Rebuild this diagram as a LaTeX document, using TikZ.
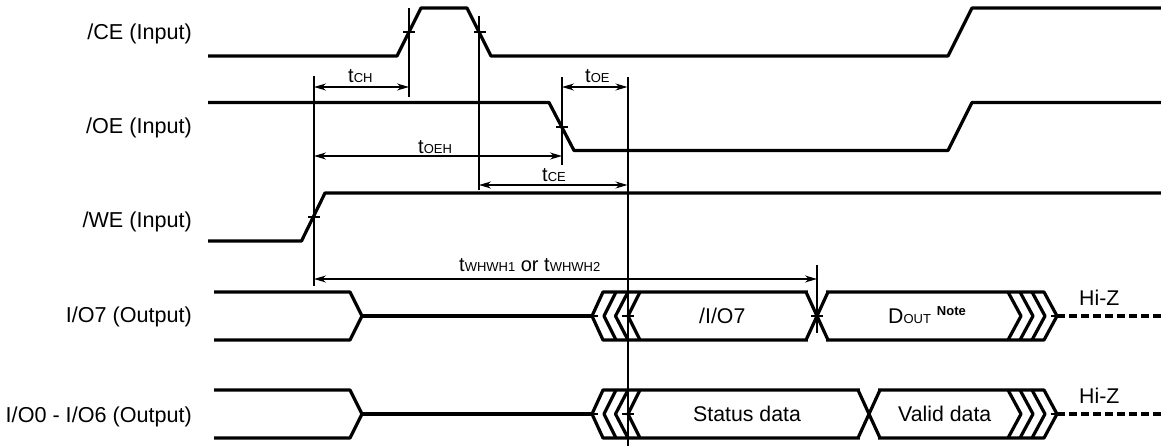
\documentclass[tikz,border=0pt]{standalone}
\usepackage{fontspec}
\setmainfont{Liberation Sans}
\usetikzlibrary{arrows.meta}
\newcommand{\sg}[1]{{\fontsize{13}{13}\selectfont #1}}
\tikzset{
  x=1pt,y=-1pt,
  wave/.style={line width=3.2pt,line join=round,black},
  guide/.style={line width=2pt,black},
  tickmark/.style={line width=1.2pt,black},
  dim/.style={line width=1.3pt,black,{Stealth[length=12pt,width=7pt]}-{Stealth[length=12pt,width=7pt]}},
  hiz/.style={wave,dash pattern=on 8pt off 4pt},
  sig/.style={anchor=base east,font=\fontsize{21.6}{24}\selectfont,inner sep=0pt},
  lab/.style={anchor=base west,font=\fontsize{20}{24}\selectfont,inner sep=0pt},
  txt/.style={anchor=base west,font=\fontsize{21.3}{24}\selectfont,inner sep=0pt}
}
\newcommand{\bus}[1]{%
 \begin{scope}[shift={(0,#1)}]
  \draw[wave] (214,-24) -- (350,-24) -- (362,0) -- (350,24) -- (214,24);
  \draw[wave] (362,0) -- (592,0);
  \draw[wave] (616,-24) -- (604,0) -- (616,24);
  \draw[wave] (628,-24) -- (615.5,0) -- (628,24);
  \draw[wave] (640,-24) -- (628,0) -- (640,24);
  \draw[wave] (1008,-24) -- (1021,0) -- (1008,24);
  \draw[wave] (1020,-24) -- (1033,0) -- (1020,24);
  \draw[wave] (1032,-24) -- (1045,0) -- (1032,24);
  \draw[wave] (592,0) -- (603,-24) -- (1044,-24) -- (1057,0) -- (1044,24) -- (603,24) -- cycle;
  \draw[hiz] (1057,0) -- (1161,0);
  \draw[tickmark] (622,0) -- (634,0);
  \draw[tickmark] (592,0) -- (598,0);
  \draw[tickmark] (1051,0) -- (1057,0);
 \end{scope}}
\begin{document}
\begin{tikzpicture}
\useasboundingbox (0,0) rectangle (1161,446);
% waveforms
\draw[wave] (208,56) -- (397,56) -- (421,8) -- (467,8) -- (491,56) -- (948,56) -- (972,8) -- (1161,8);
\draw[wave] (208,102.5) -- (549,102.5) -- (574,150.5) -- (948,150.5) -- (972,102.5) -- (1161,102.5);
\draw[wave] (208,241) -- (301.5,241) -- (325,193) -- (1161,193);
\bus{316}
\bus{414}
% crossings between data sections
\fill[white] (808,290) rectangle (826,342);
\fill[white] (860,388) rectangle (878,440);
\draw[wave] (806,292) -- (828,340);
\draw[wave] (806,340) -- (828,292);
\draw[wave] (858,390) -- (880,438);
\draw[wave] (858,438) -- (880,390);
% guide coordinates
\coordinate (a1) at (314,76);   \coordinate (a2) at (314,286);
\coordinate (b1) at (409,8);    \coordinate (b2) at (409,97);
\coordinate (c1) at (479,16);   \coordinate (c2) at (479,190);
\coordinate (d1) at (562,77);   \coordinate (d2) at (562,165);
\coordinate (e1) at (627.5,77); \coordinate (e2) at (627.5,446);
\coordinate (f1) at (817,265);  \coordinate (f2) at (817,333);
\draw[guide] (a1) -- (a2);
\draw[guide] (b1) -- (b2);
\draw[guide] (c1) -- (c2);
\draw[guide] (d1) -- (d2);
\draw[guide] (e1) -- (e2);
\draw[guide] (f1) -- (f2);
% ticks
\draw[tickmark] (403,32) -- (415,32);
\draw[tickmark] (474,32) -- (486,32);
\draw[tickmark] (556,127) -- (568,127);
\draw[tickmark] (308,217) -- (320,217);
\draw[tickmark] (811,316) -- (823,316);
% dimension lines
\coordinate (chL) at (314,87);  \coordinate (chR) at (409,87);
\coordinate (oeL) at (562,87);  \coordinate (oeR) at (627.5,87);
\coordinate (ehL) at (314,156); \coordinate (ehR) at (562,156);
\coordinate (ceL) at (479,185); \coordinate (ceR) at (627.5,185);
\coordinate (whL) at (314,279); \coordinate (whR) at (817,279);
\draw[dim] (chL) -- (chR);
\draw[dim] (oeL) -- (oeR);
\draw[dim] (ehL) -- (ehR);
\draw[dim] (ceL) -- (ceR);
\draw[dim] (whL) -- (whR);
% timing labels
\node[lab] (tch) at (348,83) {t\sg{CH}};
\node[lab] (toe) at (585,83) {t\sg{OE}};
\node[lab] (toeh) at (418,154) {t\sg{OEH}};
\node[lab] (tce) at (542,182) {t\sg{CE}};
\node[lab] (twh) at (459,272) {t\sg{WHWH1} or t\sg{WHWH2}};
% signal names
\node[sig] (n1) at (192,39.5) {/CE (Input)};
\node[sig] (n2) at (192,134) {/OE (Input)};
\node[sig] (n3) at (192,228) {/WE (Input)};
\node[sig] (n4) at (192,322.5) {I/O7 (Output)};
\node[sig] (n5) at (192,422.5) {I/O0 - I/O6 (Output)};
% bus texts
\node[txt] (d1t) at (699,323) {/I/O7};
\node[txt] (d2t) at (693,421.5) {Status data};
\node[txt] (d3t) at (898,421.5) {Valid data};
\node[txt] (d4t) at (888,323) {D\sg{OUT} \raisebox{8pt}{\fontsize{13}{13}\selectfont\bfseries Note}};
\node[txt] (hz1) at (1079,305) {Hi-Z};
\node[txt] (hz2) at (1079,403) {Hi-Z};
\end{tikzpicture}
\end{document}
